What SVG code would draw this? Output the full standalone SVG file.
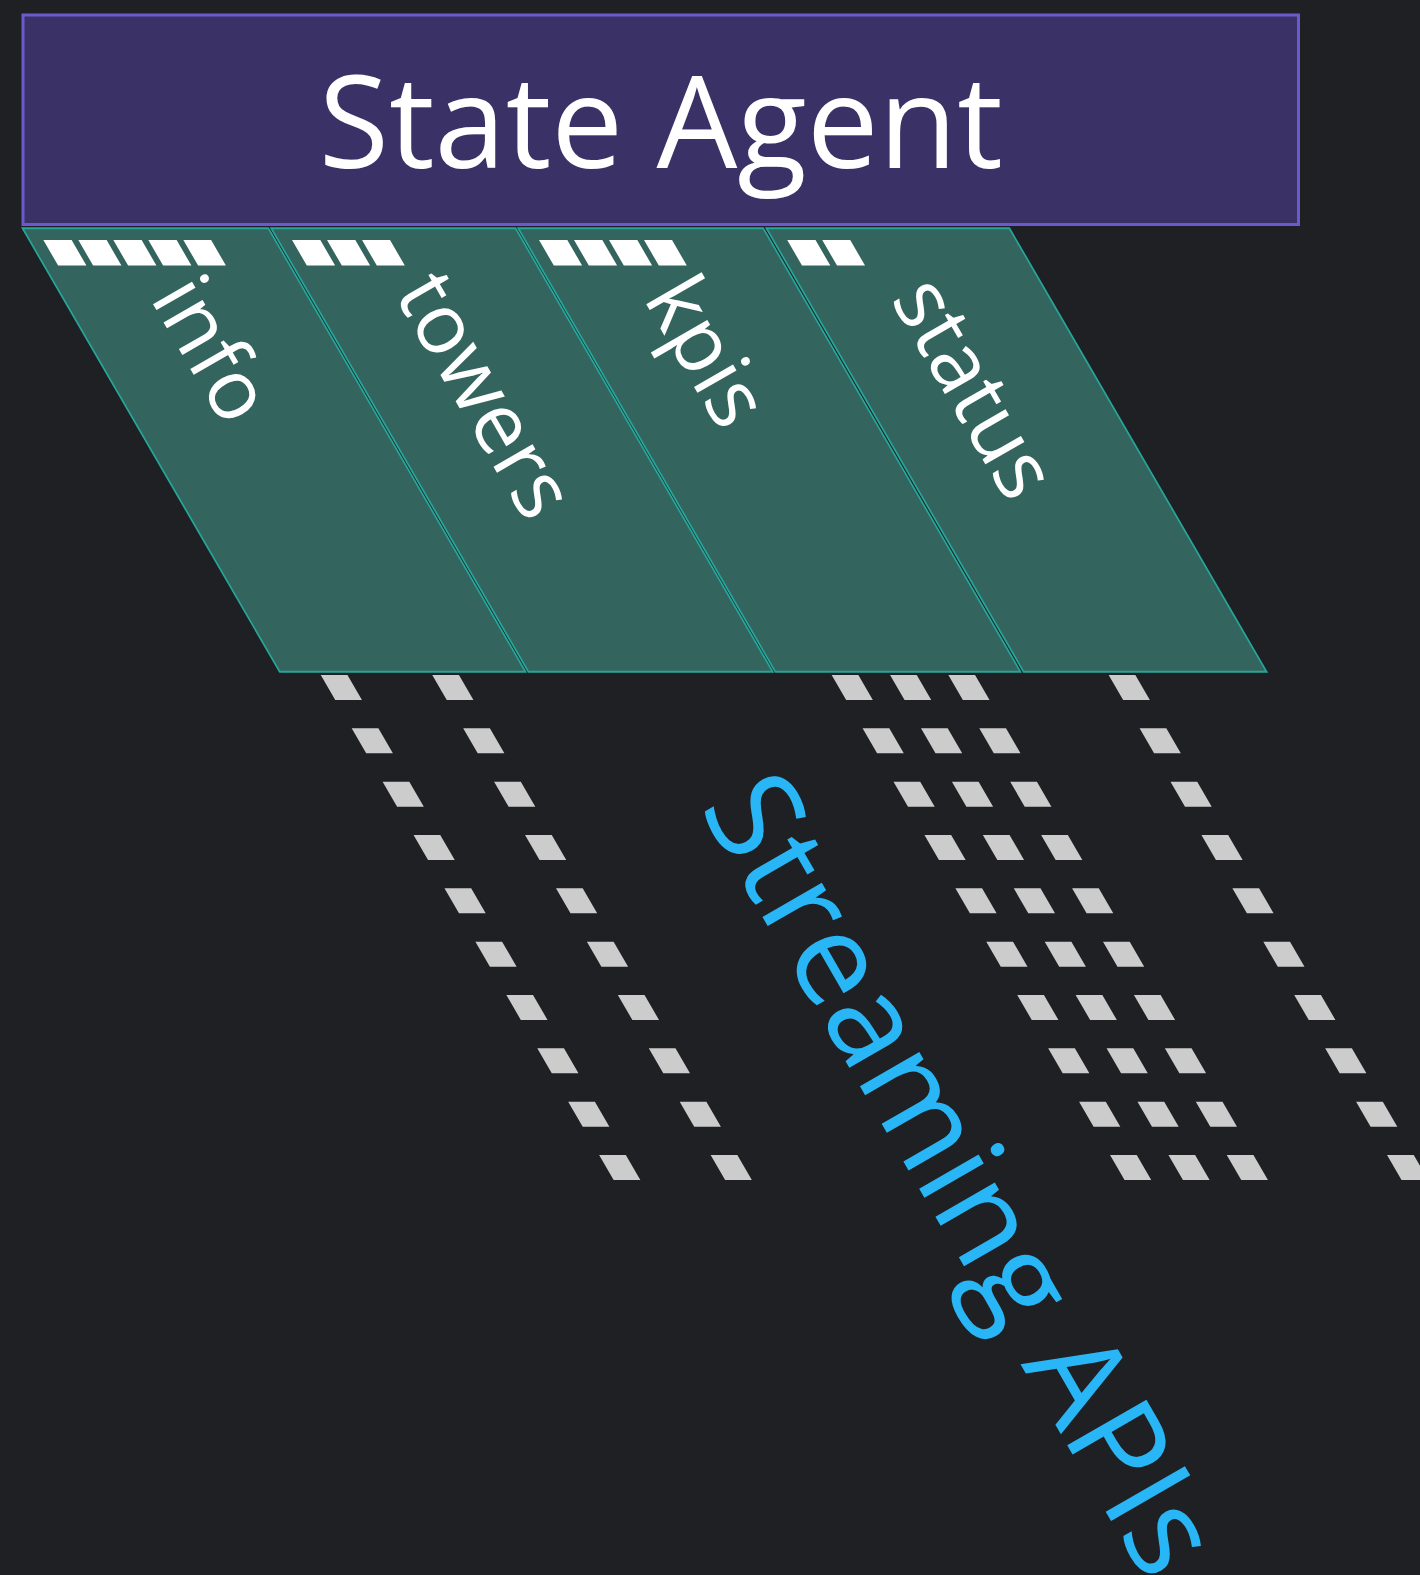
<svg xmlns="http://www.w3.org/2000/svg" width="1420" height="1575" viewBox="0 0 1420 1575">
  <style>
    .txt { font-family: "Open Sans", "Noto Sans", "Liberation Sans", sans-serif; }
    .agent-box { fill: #3a3166; stroke: #6a5acd; stroke-width: 3; }
    .agent-label { font-size: 128px; fill: #ffffff; }
    .col { fill: #33645e; stroke: #26a69a; stroke-width: 2; }
    .hdr { stroke: #ffffff; stroke-width: 25.5; stroke-dasharray: 28.3 6.7; fill: none; }
    .col-label { font-size: 84px; fill: #ffffff; }
    .edge { stroke: #cccccc; stroke-width: 26.7; stroke-dasharray: 25 28.33; fill: none; }
    .edge-label { font-size: 128px; fill: #29b6f6; }
  </style>

  <!-- canvas -->
  <rect width="1420" height="1575" fill="#1f2023"/>

  <!-- agent header -->
  <g id="state-agent">
    <rect class="agent-box" x="23" y="15" width="1275.5" height="209.5"/>
    <text class="txt agent-label" x="660.75" y="168" text-anchor="middle">State Agent</text>
  </g>

  <!-- slanted state columns: rect + header bar drawn in a 30deg sheared frame anchored at y=228.3 -->
  <g id="info">
    <g transform="matrix(1 0 0.58 1 -132.4 0)">
      <rect class="col" x="22.5" y="228.3" width="245.8" height="443.4"/>
      <line class="hdr" x1="36.5" y1="252.8" x2="204.3" y2="252.8"/>
    </g>
    <text class="txt col-label" transform="translate(149.4 298) rotate(60)">info</text>
  </g>

  <g id="towers">
    <g transform="matrix(1 0 0.58 1 -132.4 0)">
      <rect class="col" x="271.2" y="228.3" width="244.3" height="443.4"/>
      <line class="hdr" x1="285.2" y1="252.8" x2="383.2" y2="252.8"/>
    </g>
    <text class="txt col-label" transform="translate(393.6 293.7) rotate(60)">towers</text>
  </g>

  <g id="kpis">
    <g transform="matrix(1 0 0.58 1 -132.4 0)">
      <rect class="col" x="518.2" y="228.3" width="245" height="443.4"/>
      <line class="hdr" x1="532.2" y1="252.8" x2="665.2" y2="252.8"/>
    </g>
    <text class="txt col-label" transform="translate(642.8 298) rotate(60)">kpis</text>
  </g>

  <g id="status">
    <g transform="matrix(1 0 0.58 1 -132.4 0)">
      <rect class="col" x="766.4" y="228.3" width="243" height="443.4"/>
      <line class="hdr" x1="780.4" y1="252.8" x2="843.4" y2="252.8"/>
    </g>
    <text class="txt col-label" transform="translate(890 299) rotate(60)">status</text>
  </g>

  <!-- streaming connectors, dashed and sheared like the columns -->
  <g id="connectors" transform="matrix(1 0 0.58 1 -132.4 0)">
    <line class="edge" x1="75" y1="675" x2="75" y2="1180"/>
    <line class="edge" x1="186.5" y1="675" x2="186.5" y2="1180"/>
    <line class="edge" x1="585.9" y1="675" x2="585.9" y2="1180"/>
    <line class="edge" x1="644.3" y1="675" x2="644.3" y2="1180"/>
    <line class="edge" x1="702.6" y1="675" x2="702.6" y2="1180"/>
    <line class="edge" x1="862.9" y1="675" x2="862.9" y2="1180"/>
  </g>

  <g id="streaming-label">
    <text class="txt edge-label" transform="translate(699 807.3) rotate(60)">Streaming APIs</text>
  </g>
</svg>
